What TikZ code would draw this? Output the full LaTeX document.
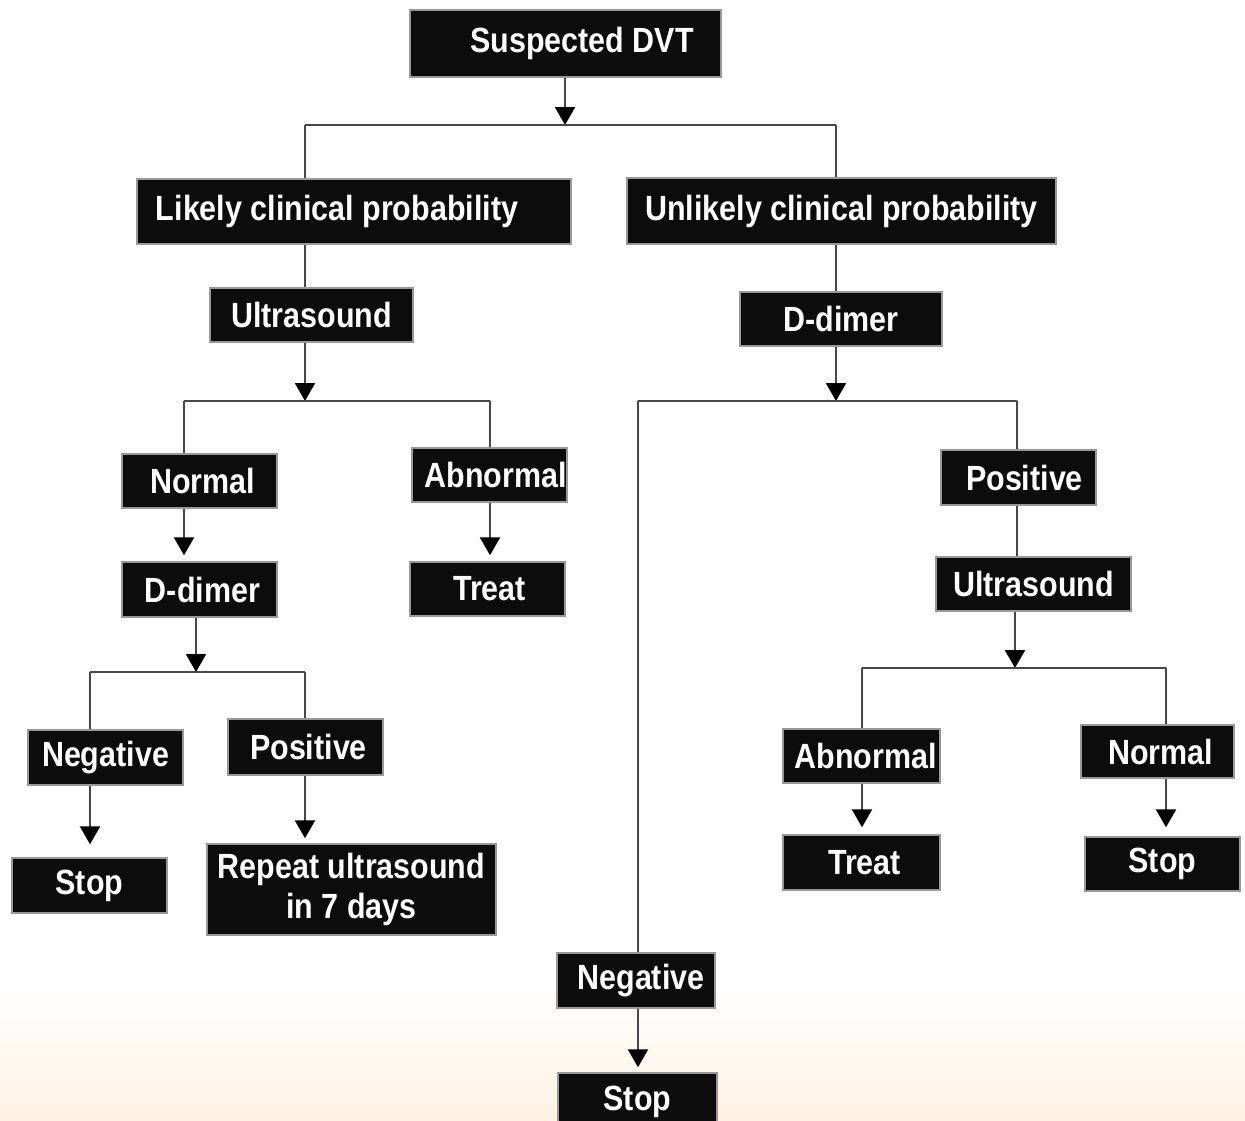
\documentclass[tikz,border=0pt]{standalone}
\usepackage{fontspec}
\newfontfamily\boxfont{Liberation Sans}[FakeStretch=0.87]
\usetikzlibrary{arrows.meta}
\definecolor{peach}{RGB}{254,242,228}
\definecolor{boxfill}{RGB}{12,12,12}
\tikzset{
  box/.style={draw=black!40, line width=1.5pt, fill=boxfill, text=white, inner sep=0pt,
    font=\boxfont\bfseries\fontsize{35}{40}\selectfont, align=center},
  conn/.style={draw=black!72, line width=2.5pt},
  arr/.style={conn, -{Triangle[width=20pt,length=18pt,color=black,fill=black]}},
}
\newcommand\bx[6]{\node[box, minimum width={#3-#2}, minimum height={#5-#4}] (#1) at ({(#2+#3)/2},{(#4+#5)/2}) {#6};}
\begin{document}
\begin{tikzpicture}[x=1pt,y=-1pt]
\clip (0,0) rectangle (1245,1120);
\useasboundingbox (0,0) rectangle (1245,1120);
\shade[top color=white, bottom color=peach] (0,985) rectangle (1245,1120);

% boxes
\bx{sdvt}{410}{721}{10}{77}{\hspace*{33pt}Suspected DVT}
\bx{likely}{137}{571}{179}{244}{Likely clinical probability\hspace*{34pt}}
\bx{unlikely}{627}{1056}{178}{244}{Unlikely clinical probability}
\bx{usL}{210}{413}{288}{342}{Ultrasound}
\bx{ddR}{740}{942}{292}{346}{D-dimer}
\bx{normL}{122}{277}{454}{508}{\hspace*{6pt}Normal}
\bx{abnL}{412}{567}{448}{502}{\hspace*{12pt}Abnormal}
\bx{ddL}{122}{277}{562}{617}{\hspace*{6pt}D-dimer}
\bx{treatL}{410}{565}{562}{616}{\hspace*{4pt}Treat}
\bx{negL}{28}{183}{730}{785}{Negative}
\bx{posL}{228}{383}{719}{775}{\hspace*{6pt}Positive}
\bx{stopL}{12}{167}{858}{913}{Stop}
\bx{repeat}{207}{496}{844}{935}{Repeat ultrasound\\in 7 days}
\bx{posR}{941}{1096}{450}{505}{\hspace*{12pt}Positive}
\bx{usR}{936}{1131}{557}{611}{Ultrasound}
\bx{abnR}{783}{940}{729}{783}{\hspace*{8pt}Abnormal}
\bx{normR}{1081}{1234}{725}{778}{\hspace*{6pt}Normal}
\bx{treatR}{783}{940}{835}{890}{\hspace*{6pt}Treat}
\bx{stopR}{1085}{1240}{837}{891}{Stop}
\bx{negB}{557}{715}{953}{1008}{\hspace*{10pt}Negative}
\bx{stopB}{558}{717}{1073}{1130}{Stop}

% bar coordinates
\coordinate (b1m) at (565,125);
\coordinate (b1l) at (305,125);
\coordinate (b1r) at (836,125);
\coordinate (b2m) at (305,401);
\coordinate (b2l) at (184,401);
\coordinate (b2r) at (490,401);
\coordinate (b3m) at (196,672);
\coordinate (b3l) at (90,672);
\coordinate (b3r) at (305,672);
\coordinate (b4m) at (836,401);
\coordinate (b4l) at (638,401);
\coordinate (b4r) at (1017,401);
\coordinate (b5m) at (1015,668);
\coordinate (b5l) at (862,668);
\coordinate (b5r) at (1166,668);

% top level
\draw[arr] (sdvt.south -| b1m) -- (b1m);
\draw[conn] (b1l) -- (b1r);
\draw[conn] (b1l) -- (likely.north -| b1l);
\draw[conn] (b1r) -- (unlikely.north -| b1r);

% left branch
\draw[conn] (likely.south -| b2m) -- (usL.north -| b2m);
\draw[arr] (usL.south -| b2m) -- (b2m);
\draw[conn] (b2l) -- (b2r);
\draw[conn] (b2l) -- (normL.north -| b2l);
\draw[conn] (b2r) -- (abnL.north -| b2r);
\draw[arr, shorten >=6pt] (normL.south -| b2l) -- (ddL.north -| b2l);
\draw[arr, shorten >=6pt] (abnL.south -| b2r) -- (treatL.north -| b2r);
\draw[arr] (ddL.south -| b3m) -- (b3m);
\draw[conn] (b3l) -- (b3r);
\draw[conn] (b3l) -- (negL.north -| b3l);
\draw[conn] (b3r) -- (posL.north -| b3r);
\draw[arr, shorten >=13pt] (negL.south -| b3l) -- (stopL.north -| b3l);
\draw[arr, shorten >=5pt] (posL.south -| b3r) -- (repeat.north -| b3r);

% right branch
\draw[conn] (unlikely.south -| b4m) -- (ddR.north -| b4m);
\draw[arr] (ddR.south -| b4m) -- (b4m);
\draw[conn] (b4l) -- (b4r);
\draw[conn] (b4r) -- (posR.north -| b4r);
\draw[conn] (b4l) -- (negB.north -| b4l);
\draw[conn] (posR.south -| b4r) -- (usR.north -| b4r);
\draw[arr] (usR.south -| b5m) -- (b5m);
\draw[conn] (b5l) -- (b5r);
\draw[conn] (b5l) -- (abnR.north -| b5l);
\draw[conn] (b5r) -- (normR.north -| b5r);
\draw[arr, shorten >=7pt] (abnR.south -| b5l) -- (treatR.north -| b5l);
\draw[arr, shorten >=9pt] (normR.south -| b5r) -- (stopR.north -| b5r);
\draw[arr, shorten >=5pt] (negB.south -| b4l) -- (stopB.north -| b4l);
\end{tikzpicture}
\end{document}
